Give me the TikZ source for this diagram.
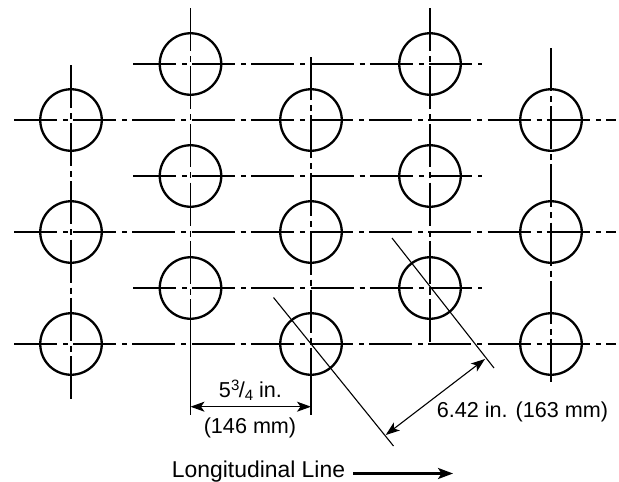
\documentclass[tikz,border=0pt]{standalone}
\usepackage{fontspec}
\setmainfont{Liberation Sans}
\usetikzlibrary{arrows.meta}
\tikzset{
  hole/.style={draw=black,circle,line width=2.3pt,minimum size=61.5pt,inner sep=0pt,outer sep=0pt},
  hcenter/.style={line width=1.3pt,dash pattern=on 43pt off 6pt on 5pt off 5.2pt},
  vcenter/.style={line width=1.3pt,dash pattern=on 43pt off 5pt on 6pt off 4.2pt},
  solidline/.style={line width=1.3pt},
  dimline/.style={line width=1.1pt,{Stealth[length=14pt,width=10pt,inset=3.5pt]}-{Stealth[length=14pt,width=10pt,inset=3.5pt]}},
  direction/.style={line width=2.5pt,-{Stealth[length=15pt,width=11pt,inset=3.5pt]}},
  lbl/.style={anchor=base,inner sep=0pt,font=\fontsize{21.6}{25}\selectfont},
}
\begin{document}
\begin{tikzpicture}[x=1pt,y=-1pt]
\useasboundingbox (0,0) rectangle (619,482);
% centres of the holes
\foreach \n/\x/\y in {a1/71/120,a2/71/232,a3/71/344,b1/190.5/64,b2/190.5/176,b3/190.5/288,c1/311/120,c2/311/232,c3/311/344,d1/430/64,d2/430/176,d3/430/288,e1/551/120,e2/551/232,e3/551/344}{
  \coordinate (\n) at (\x,\y);
}
% horizontal centre lines
\foreach \y in {120,232,344}{\draw[hcenter] (14,\y) -- (616,\y);}
\foreach \y in {64,176,288}{\draw[hcenter] (133,\y) -- (482,\y);}
% vertical centre lines
\draw[vcenter] (71,65) -- (71,400);
\draw[vcenter] (190.5,8) -- (190.5,303);
\draw[solidline] (190.5,303) -- (190.5,415);
\draw[vcenter] (311,57) -- (311,352);
\draw[solidline] (311,352) -- (311,415);
\draw[vcenter] (430,8) -- (430,345.5);
\draw[vcenter] (551,48) -- (551,385);
% holes
\foreach \n in {a1,a2,a3,b1,b2,b3,c1,c2,c3,d1,d2,d3,e1,e2,e3}{
  \node[hole] (h\n) at (\n) {};
}
% diagonal reference lines
\coordinate (p1) at (273.5,297.5);
\coordinate (p2) at (393.5,446);
\coordinate (q1) at (392,238);
\coordinate (q2) at (494,368);
\draw[line width=1.1pt] (p1) -- (p2);
\draw[line width=1.1pt] (q1) -- (q2);
% dimensions
\coordinate (s1) at (190.5,406.7);
\coordinate (s2) at (311,406.7);
\draw[dimline] (s1) -- (s2);
\coordinate (t1) at (385.7,435);
\coordinate (t2) at (485,359);
\draw[dimline] (t1) -- (t2);
\node[lbl] (dimA) at (250.5,397) {5\raisebox{7pt}{\fontsize{15}{15}\selectfont 3}\kern-0.5pt/\raisebox{-3pt}{\fontsize{15}{15}\selectfont 4} in.};
\node[lbl] (dimB) at (250,433) {(146 mm)};
\node[lbl] (dimC) at (522.5,417) {6.42 in. (163 mm)};
\node[lbl,font=\fontsize{22.9}{26}\selectfont] (long) at (258.5,477.3) {Longitudinal Line};
\coordinate (l2) at (453,473.5);
\coordinate (l1) at (353,473.5);
\draw[direction] (l1) -- (l2);
\end{tikzpicture}
\end{document}
